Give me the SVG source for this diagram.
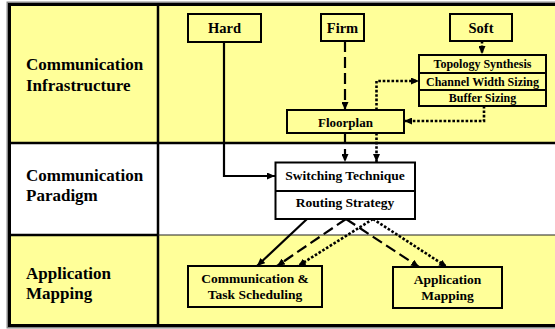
<svg xmlns="http://www.w3.org/2000/svg" width="555" height="329" viewBox="0 0 555 329">
<defs>
<style>
text{font-family:"Liberation Serif","Times New Roman",serif;font-weight:bold;fill:#000;}
.lbl{font-size:17px;}
.n{font-size:14.5px;text-anchor:middle;}
.m{font-size:13.5px;text-anchor:middle;}
.s{font-size:12px;text-anchor:middle;}
.box{fill:#FFFF99;stroke:#000;stroke-width:2;}
.wbox{fill:#fff;stroke:#000;stroke-width:2;}
.c{fill:none;stroke:#000;stroke-width:2.2;}
.dash{stroke-dasharray:11 5;}
.dot{stroke-width:2.6;stroke-dasharray:2.6 1.8;}
</style>
<marker id="ah" markerUnits="userSpaceOnUse" markerWidth="8" markerHeight="7" refX="8" refY="3.5" orient="auto">
<path d="M0,0 L8,3.5 L0,7 z" fill="#000"/>
</marker>
</defs>
<g id="frame">
<rect x="9.5" y="4.5" width="560" height="138.5" fill="#FFFF99"/>
<rect x="9.5" y="143" width="560" height="92" fill="#fff"/>
<rect x="9.5" y="235" width="560" height="90.5" fill="#FFFF99"/>
<rect x="7.25" y="2.25" width="600" height="325.5" fill="none" stroke="#888" stroke-width="1.5"/>
<rect x="9.5" y="4.5" width="600" height="321" fill="none" stroke="#000" stroke-width="3"/>
<line x1="158" y1="4.5" x2="158" y2="325.5" stroke="#000" stroke-width="2.5"/>
<line x1="9.5" y1="143" x2="560" y2="143" stroke="#000" stroke-width="2.5"/>
<line x1="9.5" y1="235" x2="158" y2="235" stroke="#000" stroke-width="2.5"/>
<line x1="158" y1="235" x2="560" y2="235" stroke="#222" stroke-width="1.2"/>
<text class="lbl" x="26" y="70">Communication</text>
<text class="lbl" x="26" y="91">Infrastructure</text>
<text class="lbl" x="26" y="181">Communication</text>
<text class="lbl" x="26" y="201">Paradigm</text>
<text class="lbl" x="26" y="279">Application</text>
<text class="lbl" x="26" y="299">Mapping</text>
</g>
<g id="connectors">
<path class="c" d="M224 42 V176 H275" marker-end="url(#ah)"/>
<path class="c dash" d="M345 41 V110" marker-end="url(#ah)"/>
<path class="c dot" d="M482 41 V54" marker-end="url(#ah)"/>
<path class="c dot" d="M376.5 110 V81 H419" marker-end="url(#ah)"/>
<path class="c dot" d="M484 106 V121 H404" marker-end="url(#ah)"/>
<path class="c dash" d="M345 133 V162" marker-end="url(#ah)"/>
<path class="c dot" d="M376.5 133 V162" marker-end="url(#ah)"/>
<path class="c" d="M307 219 L257 266" marker-end="url(#ah)"/>
<path class="c dash" d="M346 219 L277 266" marker-end="url(#ah)"/>
<path class="c dash" d="M346 219 L419 267" marker-end="url(#ah)"/>
<path class="c dot" d="M373 219 L298 266" marker-end="url(#ah)"/>
<path class="c dot" d="M373 219 L447 267" marker-end="url(#ah)"/>
</g>
<g id="hard">
<rect class="box" x="188" y="14" width="73" height="28"/>
<text class="n" x="224.5" y="33">Hard</text>
</g>
<g id="firm">
<rect class="box" x="321" y="14" width="43" height="27"/>
<text class="n" x="342.5" y="33">Firm</text>
</g>
<g id="soft">
<rect class="box" x="450" y="14" width="62" height="27"/>
<text class="n" x="481" y="33">Soft</text>
</g>
<g id="soft-stack">
<rect class="box" x="419" y="55" width="127" height="51"/>
<line x1="419" y1="73" x2="546" y2="73" stroke="#000" stroke-width="2"/>
<line x1="419" y1="90" x2="546" y2="90" stroke="#000" stroke-width="2"/>
<text class="s" x="482.5" y="68">Topology Synthesis</text>
<text class="s" x="482.5" y="85.5">Channel Width Sizing</text>
<text class="s" x="482.5" y="102">Buffer Sizing</text>
</g>
<g id="floorplan">
<rect class="box" x="287" y="110" width="117" height="23"/>
<text class="m" x="345.5" y="126.5" style="font-size:13px">Floorplan</text>
</g>
<g id="switching">
<rect class="wbox" x="275.5" y="162.5" width="139.5" height="56.5"/>
<line x1="275.5" y1="191" x2="415" y2="191" stroke="#000" stroke-width="2"/>
<text class="m" x="345" y="180">Switching Technique</text>
<text class="m" x="345" y="207">Routing Strategy</text>
</g>
<g id="comm-task">
<rect class="box" x="188" y="266" width="134" height="41"/>
<text class="m" x="255" y="283">Communication &amp;</text>
<text class="m" x="255" y="299">Task Scheduling</text>
</g>
<g id="app-mapping">
<rect class="box" x="393" y="267" width="109" height="41"/>
<text class="m" x="447.5" y="284">Application</text>
<text class="m" x="447.5" y="300">Mapping</text>
</g>
</svg>
